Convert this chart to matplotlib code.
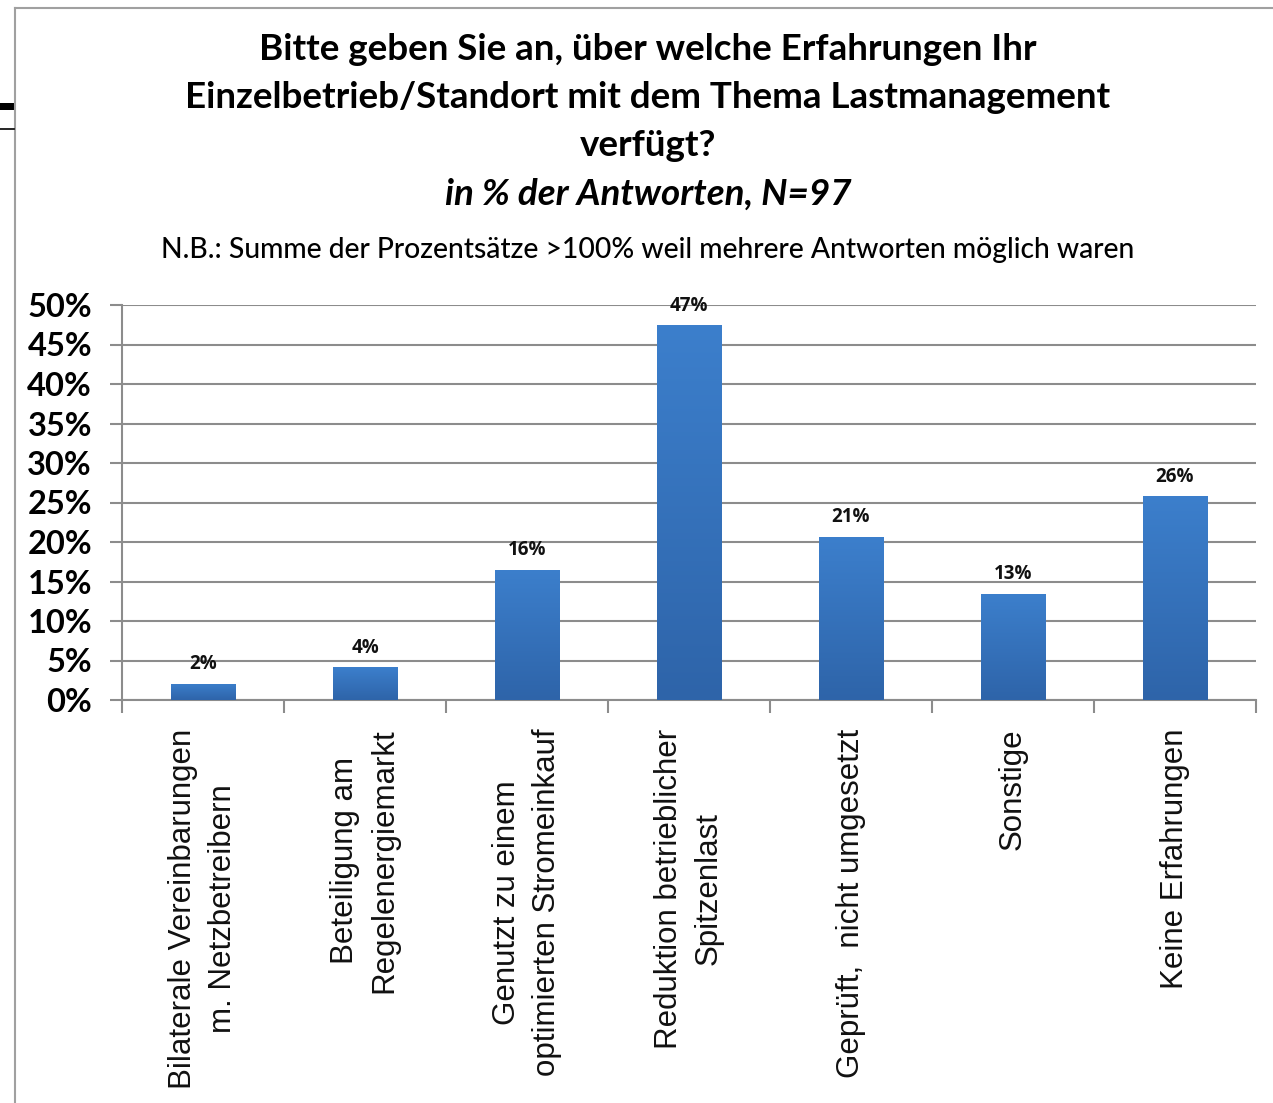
import matplotlib
matplotlib.use("Agg")
import matplotlib.pyplot as plt
import numpy as np
from matplotlib.lines import Line2D
from matplotlib.patches import Rectangle

categories = [
    "Bilaterale Vereinbarungen\nm. Netzbetreibern",
    "Beteiligung am\nRegelenergiemarkt",
    "Genutzt zu einem\noptimierten Stromeinkauf",
    "Reduktion betrieblicher\nSpitzenlast",
    "Geprüft,  nicht umgesetzt",
    "Sonstige",
    "Keine Erfahrungen",
]
values = [2.06, 4.12, 16.49, 47.42, 20.62, 13.40, 25.77]
value_labels = ["2%", "4%", "16%", "47%", "21%", "13%", "26%"]
yticks = [0, 5, 10, 15, 20, 25, 30, 35, 40, 45, 50]
ytick_labels = [f"{t}%" for t in yticks]

title_lines = ["Bitte geben Sie an, über welche Erfahrungen Ihr",
               "Einzelbetrieb/Standort mit dem Thema Lastmanagement",
               "verfügt?"]
subtitle = "in % der Antworten, N=97"
note = "N.B.: Summe der Prozentsätze >100% weil mehrere Antworten möglich waren"

W, H = 1273, 1103
fig = plt.figure(figsize=(W / 100, H / 100), dpi=100)
fig.patch.set_facecolor("white")

# outer frame lines (border of chart area)
fig.add_artist(Line2D([15 / W, 1.0], [1 - 8 / H, 1 - 8 / H], color="#a0a0a0", lw=1.5))
fig.add_artist(Line2D([15 / W, 15 / W], [0, 1 - 8 / H], color="#a0a0a0", lw=1.5))
# small black marks at left edge
fig.add_artist(Rectangle((0, 1 - 110 / H), 14 / W, 7 / H, color="black", lw=0))
fig.add_artist(Line2D([0, 14 / W], [1 - 129 / H, 1 - 129 / H], color="black", lw=1.2))

ax = fig.add_axes([122 / W, 1 - 700 / H, (1256 - 122) / W, (700 - 305) / H])

x = np.arange(len(categories))

# gradient bars
top_col = np.array([0x3c, 0x7f, 0xcc]) / 255
bot_col = np.array([0x2e, 0x64, 0xa9]) / 255
grad = np.linspace(0, 1, 256)[:, None]
img = top_col[None, None, :] * grad[..., None] + bot_col[None, None, :] * (1 - grad[..., None])
bars = ax.bar(x, values, width=0.4, color="#3573c0", zorder=3)
for b in bars:
    bx, by = b.get_x(), b.get_y()
    bw, bh = b.get_width(), b.get_height()
    im = ax.imshow(img, extent=[bx, bx + bw, by, by + bh], origin="lower",
                   aspect="auto", zorder=3.5, interpolation="bilinear")
    im.set_clip_path(b)

ax.set_xlim(-0.5, len(categories) - 0.5)
ax.set_ylim(0, 50)

for xi, v, lab in zip(x, values, value_labels):
    ax.annotate(lab, (xi, v), xytext=(0, 7), textcoords="offset points",
                ha="center", va="bottom", fontsize=13.5, fontweight="bold",
                family="Open Sans", color="#111111")

ax.set_yticks(yticks)
ax.set_yticklabels(ytick_labels, family="Lato", fontweight="bold", fontsize=23.5)
ax.yaxis.grid(True, color="#8c8c8c", lw=1.5, zorder=0)
ax.set_axisbelow(True)
ax.tick_params(axis="y", length=8.6, width=1.5, color="#8c8c8c", pad=13)

ax.set_xticks(np.arange(-0.5, len(categories) + 0.5, 1.0))
ax.set_xticklabels([])
ax.tick_params(axis="x", length=9, width=1.5, color="#8c8c8c")
for xi, cat in zip(x, categories):
    ax.text(xi, -3.6, cat, rotation=90, ha="center", va="top",
            multialignment="center", fontsize=22.5, family="Liberation Sans",
            color="#111111", linespacing=1.42)

for s in ["top", "right"]:
    ax.spines[s].set_visible(False)
ax.spines["left"].set_color("#8c8c8c")
ax.spines["left"].set_linewidth(1.5)
ax.spines["bottom"].set_color("#8c8c8c")
ax.spines["bottom"].set_linewidth(1.5)

cx = 648 / W
for i, line in enumerate(title_lines):
    fig.text(cx, 1 - (50 + 48 * i) / H, line, ha="center", va="center",
             fontsize=26.5, fontweight="bold", family="Lato")
fig.text(cx, 1 - 194 / H, subtitle, ha="center", va="center",
         fontsize=26.5, fontstyle="italic", fontweight="bold", family="Lato")
fig.text(cx, 1 - 250 / H, note, ha="center", va="center",
         fontsize=20.3, fontweight="medium", family="Lato")

fig.savefig("out.png", dpi=100, facecolor="white")
